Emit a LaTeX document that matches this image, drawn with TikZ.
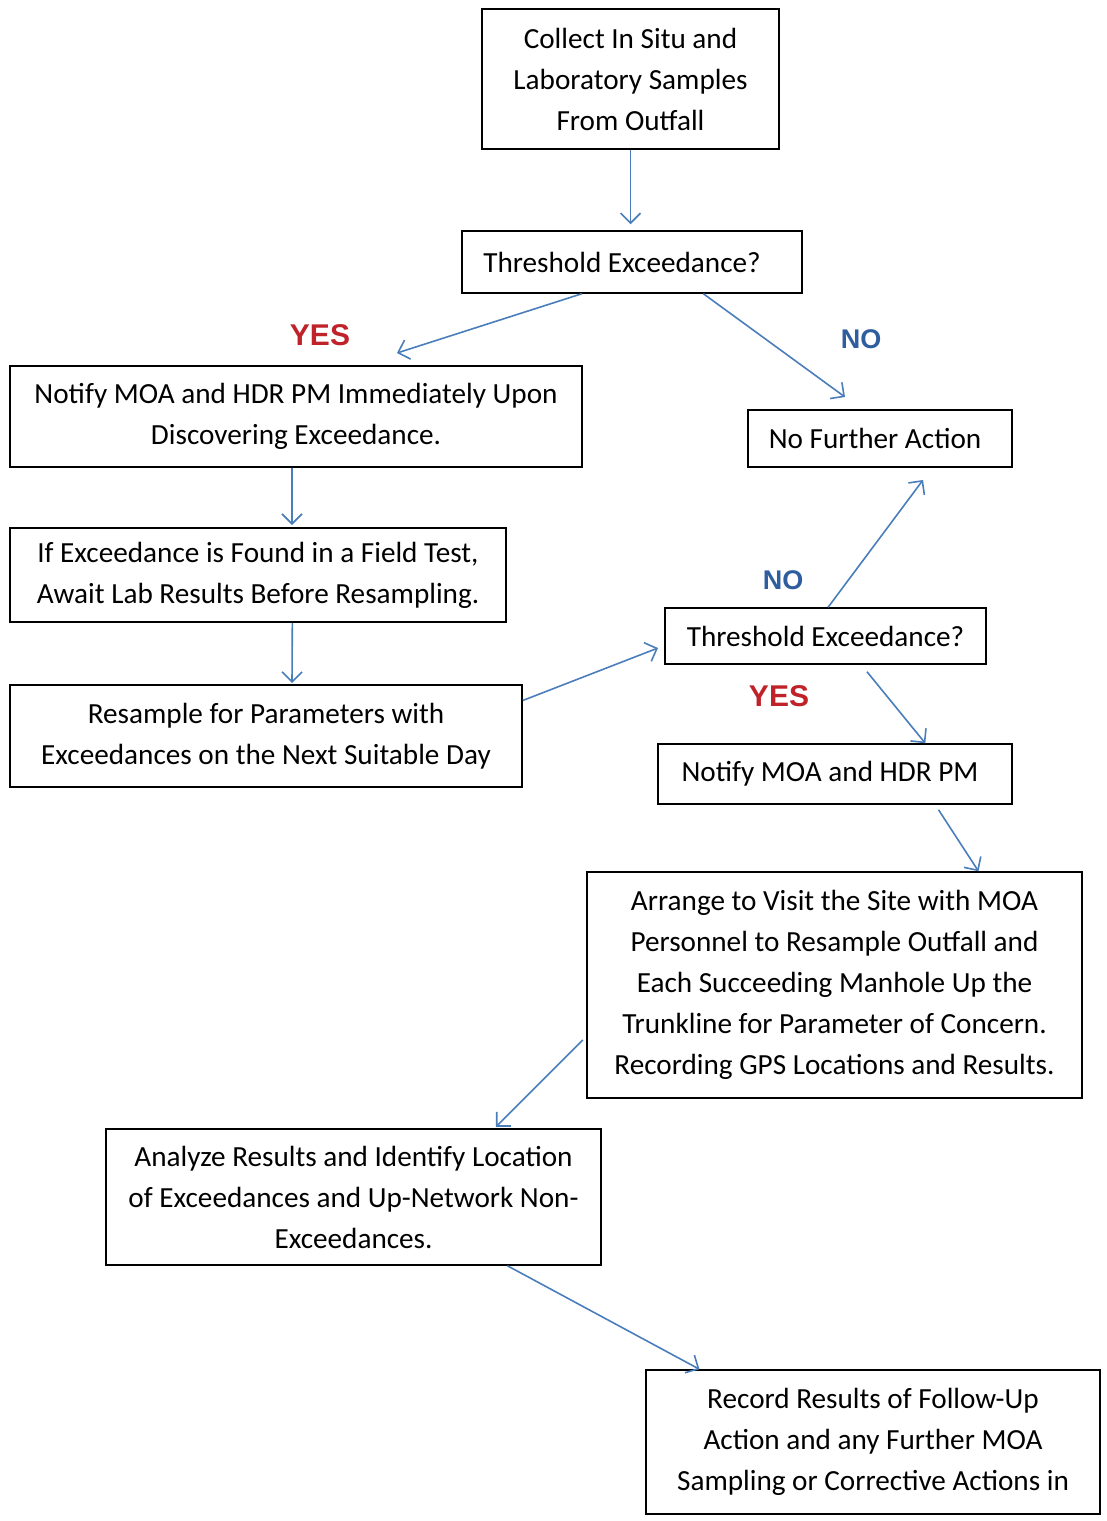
\documentclass[tikz,border=0pt]{standalone}
\usepackage{fontspec}
\setmainfont{Carlito}
\newfontfamily\answerfont{Liberation Sans}
\usepackage{xcolor}
\usetikzlibrary{arrows.meta, calc}

\definecolor{flowblue}{HTML}{4A7EBB}
\definecolor{yesred}{HTML}{C0222A}
\definecolor{noblue}{HTML}{2F5E9E}

\begin{document}
\begin{tikzpicture}[x=0.5pt, y=-0.5pt]
            \tikzset{
                step_box/.style={draw, shape = rectangle, line width=0.75pt, align=center, inner sep=0pt,
                    font=\fontsize{14.6}{20.5}\selectfont},
                flow/.style={draw=flowblue, line width=0.8pt, -{Straight Barb[length=5pt, width=10pt]}},
                yes_label/.style={text=yesred, font=\answerfont\bfseries\fontsize{15}{15}\selectfont},
                no_label/.style={text=noblue, font=\answerfont\bfseries\fontsize{13.5}{13.5}\selectfont}
            }
            \useasboundingbox (0,0) rectangle (1107,1521);
            \node[step_box, minimum width=148.5pt, minimum height=70pt] (collect) at (630.5,79)
                {Collect In Situ and\\Laboratory Samples\\From Outfall};
            \node[step_box, minimum width=170pt, minimum height=31pt] (thresh1) at (632,262)
                {\hspace*{-10pt}Threshold Exceedance?};
            \node[step_box, minimum width=286pt, minimum height=50.5pt] (notify1) at (296,416.5)
                {Notify MOA and HDR PM Immediately Upon\\Discovering Exceedance.};
            \node[step_box, minimum width=132pt, minimum height=28.5pt] (noaction) at (880,438.5)
                {\hspace*{-5pt}No Further Action};
            \node[step_box, minimum width=248pt, minimum height=47pt] (fieldtest) at (258,575)
                {If Exceedance is Found in a Field Test,\\Await Lab Results Before Resampling.};
            \node[step_box, minimum width=256pt, minimum height=51pt] (resample) at (266,736)
                {Resample for Parameters with\\Exceedances on the Next Suitable Day};
            \node[step_box, minimum width=160.5pt, minimum height=28pt] (thresh2) at (825.5,636)
                {Threshold Exceedance?};
            \node[step_box, minimum width=177pt, minimum height=30pt] (notify2) at (835,774)
                {\hspace*{-5pt}Notify MOA and HDR PM};
            \node[step_box, minimum width=247.5pt, minimum height=113pt] (visit) at (834.5,985)
                {Arrange to Visit the Site with MOA\\Personnel to Resample Outfall and\\Each Succeeding Manhole Up the\\Trunkline for Parameter of Concern.\\Recording GPS Locations and Results.};
            \node[step_box, minimum width=247.5pt, minimum height=68pt] (analyze) at (353.5,1197)
                {Analyze Results and Identify Location\\of Exceedances and Up-Network Non-\\Exceedances.};
            \node[step_box, minimum width=227pt, minimum height=72pt] (record) at (873,1442)
                {Record Results of Follow-Up\\Action and any Further MOA\\Sampling or Corrective Actions in};

            % answer labels
            \node[yes_label] (yes1) at (320,335) {YES};
            \node[no_label] (no1) at (861,339) {NO};
            \node[no_label] (no2) at (783,580) {NO};
            \node[yes_label] (yes2) at (779,696) {YES};

            % free arrow ends
            \coordinate (yes1end) at (397,353);
            \coordinate (no1end) at (845,397);
            \coordinate (notify1end) at (292,525);
            \coordinate (fieldend) at (292,683);
            \coordinate (resampleend) at (658,648);
            \coordinate (no2end) at (923,480);

            \path (collect.south) edge[flow, shorten >=3pt] (collect.south |- thresh1.north);
            \path ($(thresh1.south west)!0.353!(thresh1.south east)$) edge[flow] (yes1end);
            \path ($(thresh1.south west)!0.709!(thresh1.south east)$) edge[flow] (no1end);
            \path ($(notify1.south west)!0.493!(notify1.south east)$) edge[flow] (notify1end);
            \path ($(fieldtest.south west)!0.569!(fieldtest.south east)$) edge[flow] (fieldend);
            \path ($(resample.north east)!0.157!(resample.south east)$) edge[flow] (resampleend);
            \path ($(thresh2.north west)!0.508!(thresh2.north east)$) edge[flow] (no2end);
            \path ($(thresh2.south west)!0.611!(thresh2.south east)$) edge[flow, shorten <=4.5pt] ($(notify2.north west)!0.754!(notify2.north east)$);
            \path ($(notify2.south west)!0.782!(notify2.south east)$) edge[flow, shorten <=3pt] ($(visit.north west)!0.790!(visit.north east)$);
            \path ($(visit.north west)!0.726!(visit.south west)$) edge[flow, shorten <=2.5pt, shorten >=1pt] ($(analyze.north west)!0.784!(analyze.north east)$);
            \path ($(analyze.south west)!0.810!(analyze.south east)$) edge[flow] ($(record.north west)!0.119!(record.north east)$);
        \end{tikzpicture}
\end{document}
